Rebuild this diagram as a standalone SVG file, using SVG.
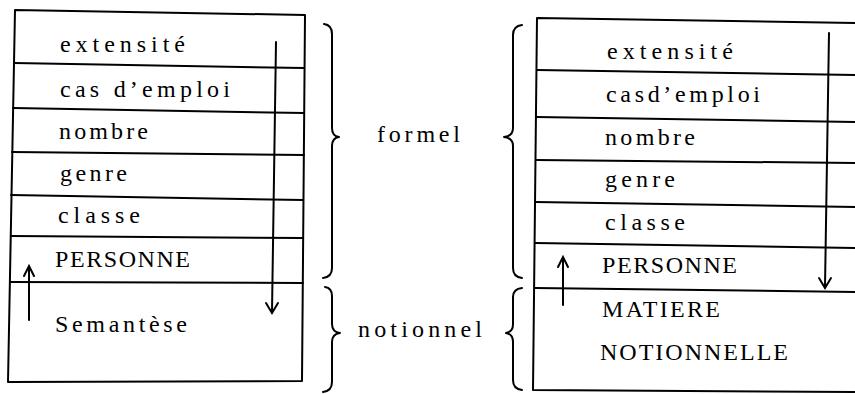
<svg xmlns="http://www.w3.org/2000/svg" width="855" height="394" viewBox="0 0 855 394">
<style>
  .ln { stroke:#000; stroke-width:2; fill:none; stroke-linecap:round; stroke-linejoin:round; }
  .t { font-family:"Liberation Serif","Times New Roman",serif; font-size:24px; fill:#000; }
  .arr { stroke:#000; stroke-width:2; fill:none; stroke-linecap:round; stroke-linejoin:miter; }
</style>
<rect width="855" height="394" fill="#fff"/>

<g id="left-table">
  <polygon class="ln" points="15,10 305,15 302,381 8,382"/>
  <g id="l-extensite"><text class="t" x="60" y="52" textLength="125" lengthAdjust="spacing">extensité</text></g>
  <g id="l-casdemploi"><line class="ln" x1="14" y1="63" x2="304" y2="68"/><text class="t" x="60" y="97" textLength="170" lengthAdjust="spacing">cas d’emploi</text></g>
  <g id="l-nombre"><line class="ln" x1="13" y1="108" x2="304" y2="113"/><text class="t" x="59" y="139" textLength="89" lengthAdjust="spacing">nombre</text></g>
  <g id="l-genre"><line class="ln" x1="12" y1="152" x2="304" y2="155"/><text class="t" x="60" y="181" textLength="67" lengthAdjust="spacing">genre</text></g>
  <g id="l-classe"><line class="ln" x1="11" y1="195" x2="303" y2="200"/><text class="t" x="58" y="223" textLength="82" lengthAdjust="spacing">classe</text></g>
  <g id="l-personne"><line class="ln" x1="11" y1="236" x2="303" y2="238"/><text class="t" x="55" y="267" textLength="135" lengthAdjust="spacing">PERSONNE</text></g>
  <g id="l-semantese"><line class="ln" x1="10" y1="282" x2="303" y2="283"/><text class="t" x="55" y="332" textLength="132" lengthAdjust="spacing">Semantèse</text></g>
</g>

<g id="right-table">
  <polyline class="ln" points="856,23 537,18 533,390 856,392"/>
  <g id="r-extensite"><text class="t" x="607" y="59" textLength="126" lengthAdjust="spacing">extensité</text></g>
  <g id="r-casdemploi"><line class="ln" x1="537" y1="70" x2="856" y2="75"/><text class="t" x="606" y="102" textLength="154" lengthAdjust="spacing">casd’emploi</text></g>
  <g id="r-nombre"><line class="ln" x1="536" y1="117" x2="856" y2="122"/><text class="t" x="605" y="145" textLength="90" lengthAdjust="spacing">nombre</text></g>
  <g id="r-genre"><line class="ln" x1="536" y1="160" x2="856" y2="163"/><text class="t" x="605" y="187" textLength="70" lengthAdjust="spacing">genre</text></g>
  <g id="r-classe"><line class="ln" x1="535" y1="202" x2="856" y2="207"/><text class="t" x="605" y="230" textLength="80" lengthAdjust="spacing">classe</text></g>
  <g id="r-personne"><line class="ln" x1="535" y1="243" x2="856" y2="248"/><text class="t" x="602" y="273" textLength="135" lengthAdjust="spacing">PERSONNE</text></g>
  <g id="r-matiere"><line class="ln" x1="535" y1="288" x2="856" y2="292"/><text class="t" x="602" y="317" textLength="118" lengthAdjust="spacing">MATIERE</text><text class="t" x="600" y="360" textLength="188" lengthAdjust="spacing">NOTIONNELLE</text></g>
</g>

<g id="labels">
  <g id="formel"><text class="t" x="377" y="142" textLength="83" lengthAdjust="spacing">formel</text></g>
  <g id="notionnel"><text class="t" x="358" y="337" textLength="124" lengthAdjust="spacing">notionnel</text></g>
</g>

<g id="braces">
  <path class="ln" d="M324,24 Q332,25 332,34 L332,128 Q332,136 339,137 Q332,138 332,146 L332,268 Q332,277 323,278"/>
  <path class="ln" d="M325,287 Q332,288 332,296 L332,324 Q332,332 340,333 Q332,334 332,342 L332,382 Q332,391 323,392"/>
  <path class="ln" d="M522,25 Q513,26 513,35 L513,128 Q513,136 504,137 Q513,138 513,146 L513,268 Q513,277 522,278"/>
  <path class="ln" d="M522,288 Q513,289 513,297 L513,324 Q513,332 506,333 Q513,334 513,342 L513,380 Q513,389 522,390"/>
</g>

<g id="connectors">
  <line class="arr" x1="276" y1="42" x2="272" y2="312"/>
  <polyline class="arr" points="266,303 272,313 278,303"/>
  <line class="arr" x1="29" y1="320" x2="29" y2="267"/>
  <polyline class="arr" points="24,276 29,266 34,276"/>
  <line class="arr" x1="829" y1="33" x2="825" y2="287"/>
  <polyline class="arr" points="819,278 825,288 831,278"/>
  <line class="arr" x1="563" y1="305" x2="563" y2="258"/>
  <polyline class="arr" points="558,267 563,257 568,267"/>
</g>
</svg>
